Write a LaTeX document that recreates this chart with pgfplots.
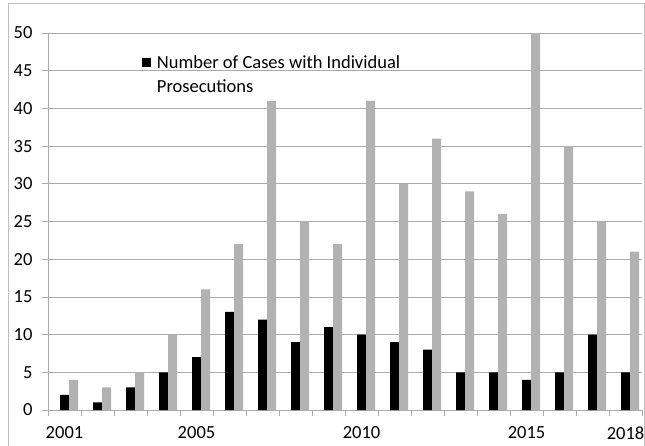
\documentclass[border=0pt]{standalone}
\usepackage{fontspec}
\setmainfont{Carlito}
\usepackage{pgfplots}
\usepackage{pgfplotstable}
\pgfplotsset{compat=1.18}
\definecolor{barg}{RGB}{178,178,178}
\definecolor{gridc}{RGB}{170,170,170}
\definecolor{framec}{RGB}{190,190,190}
\pgfplotstableread{
idx year indiv total
0 2001 2 4
1 2002 1 3
2 2003 3 5
3 2004 5 10
4 2005 7 16
5 2006 13 22
6 2007 12 41
7 2008 9 25
8 2009 11 22
9 2010 10 41
10 2011 9 30
11 2012 8 36
12 2013 5 29
13 2014 5 26
14 2015 4 50
15 2016 5 35
16 2017 10 25
17 2018 5 21
}\datatable
\begin{document}
\begin{tikzpicture}[x=1pt,y=1pt]
\useasboundingbox (0,0) rectangle (645,445);
\draw[framec, line width=1pt] (8,-10) -- (8,441) -- (644,441) -- (644,-10);
\begin{axis}[
  at={(48pt,35pt)}, anchor=south west,
  scale only axis, width=594pt, height=377pt,
  xmin=-0.5, xmax=17.5, ymin=0, ymax=50,
  ybar=0pt, bar width=9pt,
  axis lines=left, axis line style={-, gridc, line width=0.8pt},
  ytick={0,5,10,15,20,25,30,35,40,45,50},
  ymajorgrids, grid style={gridc, line width=0.8pt},
  xtick={-0.5,0.5,1.5,2.5,3.5,4.5,5.5,6.5,7.5,8.5,9.5,10.5,11.5,12.5,13.5,14.5,15.5,16.5,17.5},
  xticklabels={},
  extra x ticks={0,4,9,14,17},
  extra x tick labels={2001,2005,2010,2015,2018},
  extra x tick style={major tick length=0pt, grid=none},
  tick align=outside, major tick length=6pt,
  tick style={gridc, line width=0.8pt},
  font=\fontsize{18.5}{22}\selectfont,
  /pgf/number format/assume math mode=true,
  yticklabel style={xshift=-6pt},
  xticklabel style={yshift=-13pt},
  legend style={draw=none, fill=none, at={(axis cs:2.25,47.5)}, anchor=north west,
    font=\fontsize{18.5}{24}\selectfont, nodes={align=left}},
  legend cell align=left,
  legend image code/.code={\path[draw=none,fill=none] (0pt,8pt) rectangle (13pt,17pt);\fill[black] (0pt,8pt) rectangle (9pt,17pt);},
]
\addplot[fill=black, draw=none] table[x=idx, y=indiv] {\datatable};
\addlegendentry{Number of Cases with Individual\\Prosecutions}
\addplot[fill=barg, draw=none, forget plot] table[x=idx, y=total] {\datatable};
\end{axis}
\end{tikzpicture}
\end{document}
